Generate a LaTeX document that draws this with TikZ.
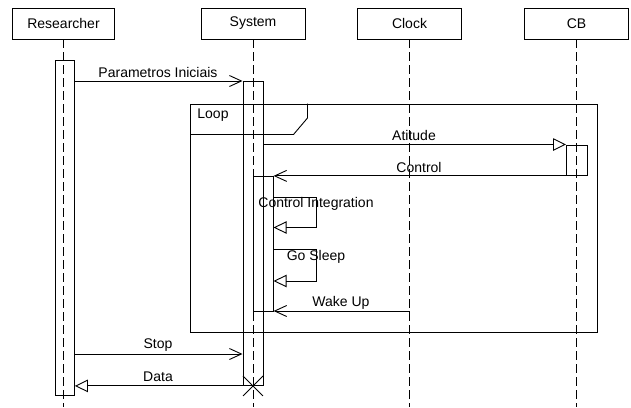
\documentclass[tikz,border=0pt]{standalone}
\usepackage{fontspec}
\setmainfont{Liberation Sans}
\usetikzlibrary{arrows.meta}
\begin{document}
\begin{tikzpicture}[x=1pt,y=-1pt,line width=0.9pt,
  head/.style={draw,minimum height=31pt,inner sep=0pt,font=\fontsize{14}{16}\selectfont},
  life/.style={dash pattern=on 9pt off 4pt},
  actbox/.style={draw,inner sep=0pt,anchor=north west},
  lbl/.style={font=\fontsize{14}{16}\selectfont,inner sep=0pt},
  syncmsg/.style={-{Triangle[open,length=13pt,width=12.5pt]}},
  asyncmsg/.style={-{Straight Barb[length=12pt,width=11pt]}}]
\useasboundingbox (0,0) rectangle (631,407);
\coordinate (bottom) at (0,407);
% headers
\node[head,minimum width=102pt] (res) at (63.5,23.5) {Researcher};
\node[head,minimum width=104pt] (sys) at (253,23.5) {System};
\node[head,minimum width=104pt] (clk) at (409.5,23.5) {Clock};
\node[head,minimum width=104pt] (cb) at (576.5,23.5) {CB};
% lifelines
\draw[life] (res.south) -- (res.south |- bottom);
\draw[life] (sys.south) -- (sys.south |- bottom);
\draw[life] (clk.south) -- (clk.south |- bottom);
\draw[life] (cb.south) -- (cb.south |- bottom);
% activations
\node[actbox,minimum width=19.5pt,minimum height=334.5pt] (ra) at (54.5,60) {};
\node[actbox,minimum width=20pt,minimum height=304pt] (sa) at (242.5,81) {};
\node[actbox,minimum width=20pt,minimum height=135pt] (sb) at (252.7,175.7) {};
\node[actbox,minimum width=20.5pt,minimum height=30.5pt] (cba) at (566,144.5) {};
% loop frame
\node[draw,inner sep=0pt,anchor=north west,minimum width=407pt,minimum height=228pt] (loop) at (190,103.5) {};
\coordinate (tabA) at (293.5,134.5);
\coordinate (tabB) at (307.5,118);
\draw (loop.west |- tabA) -- (tabA) -- (tabB) -- (tabB |- loop.north);
\node[lbl] (looplbl) at (213,115) {Loop};
% messages
\draw[asyncmsg] (ra.east |- 0,81) -- (sa.west |- 0,81);
\node[lbl] (m1) at (158,72) {Parametros Iniciais};
\draw[syncmsg] (sa.east |- cba.north) -- (cba.north west);
\node[lbl] (m2) at (414,135.5) {Atitude};
\draw[asyncmsg] (cba.south west) -- (sb.east |- cba.south);
\node[lbl] (m3) at (419,167.5) {Control};
\coordinate (ci1) at (316,197);
\coordinate (ci2) at (316,227.5);
\draw[syncmsg] (sb.east |- ci1) -- (ci1) -- (ci2) -- (sb.east |- ci2);
\node[lbl] (m4) at (316,204) {Control Integration};
\coordinate (gs1) at (316,249);
\coordinate (gs2) at (316,281);
\draw[syncmsg] (sb.east |- gs1) -- (gs1) -- (gs2) -- (sb.east |- gs2);
\node[lbl] (m5) at (316,257) {Go Sleep};
\coordinate (wk) at (clk.south |- 0,311);
\draw[asyncmsg] (wk) -- (sb.east |- wk);
\node[lbl] (m6) at (341,302.5) {Wake Up};
\draw[asyncmsg] (ra.east |- 0,354) -- (sa.west |- 0,354);
\node[lbl] (m7) at (158,345.5) {Stop};
\draw[syncmsg] (sa.south west) -- (ra.east |- sa.south);
\node[lbl] (m8) at (158,376.5) {Data};
% destruction
\coordinate (xd) at (sys.south |- sa.south);
\draw (xd) ++(-10,-10) -- ++(20,20);
\draw (xd) ++(-10,10) -- ++(20,-20);
\end{tikzpicture}
\end{document}
